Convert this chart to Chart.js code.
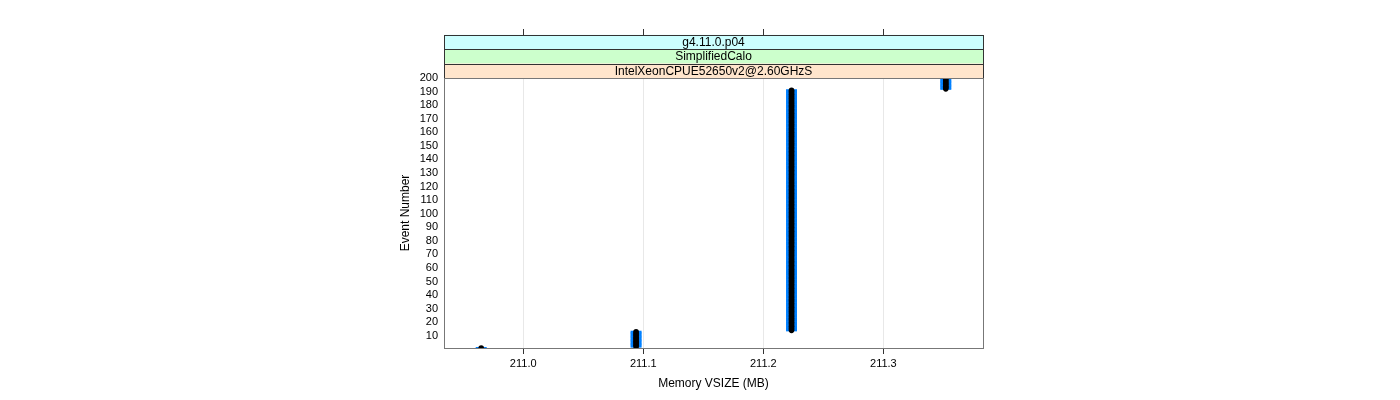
<!DOCTYPE html>
<html>
<head>
<meta charset="utf-8">
<script src="https://cdn.jsdelivr.net/npm/chart.js@4.4.0/dist/chart.umd.min.js"></script>
<style>
  html, body { margin: 0; padding: 0; background: #ffffff; }
  #wrap { width: 1400px; height: 400px; }
</style>
</head>
<body>
<div id="wrap"><canvas id="c" width="1400" height="400"></canvas></div>
<script>
// ---- data ----
const runMemory = [210.965, 211.094, 211.2235, 211.352];   // Memory VSIZE (MB)
const runFirstEvent = [1, 2, 14, 192];
const runLastEvent  = [1, 13, 191, 200];
const xTicks = [211.0, 211.1, 211.2, 211.3];
const yTicks = [10, 20, 30, 40, 50, 60, 70, 80, 90, 100, 110, 120, 130, 140, 150, 160, 170, 180, 190, 200];
const stripLabels = ['g4.11.0.p04', 'SimplifiedCalo', 'IntelXeonCPUE52650v2@2.60GHzS'];
const xTitle = 'Memory VSIZE (MB)';
const yTitle = 'Event Number';

const points = [];
for (let i = 0; i < runMemory.length; i++) {
  for (let ev = runFirstEvent[i]; ev <= runLastEvent[i]; ev++) {
    points.push({ x: runMemory[i], y: ev });
  }
}

const FONT = '"Liberation Sans", Arial, sans-serif';
const stripColors = ['#ccffff', '#ccffcc', '#ffe5cc'];

const stripPlugin = {
  id: 'strips',
  afterDraw(chart) {
    const ctx = chart.ctx;
    const a = chart.chartArea;
    const h = 14.4;
    const top = a.top - h * 3;
    ctx.save();
    for (let i = 0; i < 3; i++) {
      const y0 = top + i * h;
      ctx.fillStyle = stripColors[i];
      ctx.fillRect(a.left, y0, a.right - a.left, h);
    }
    ctx.strokeStyle = '#333333';
    ctx.lineWidth = 1;
    for (let i = 0; i < 3; i++) {
      const y0 = Math.round(top + i * h) + 0.5;
      const y1 = Math.round(top + (i + 1) * h) + 0.5;
      ctx.strokeRect(Math.round(a.left) + 0.5, y0, Math.round(a.right - a.left), y1 - y0);
    }
    ctx.fillStyle = '#000000';
    ctx.font = '12px ' + FONT;
    ctx.textAlign = 'center';
    ctx.textBaseline = 'middle';
    for (let i = 0; i < 3; i++) {
      ctx.fillText(stripLabels[i], (a.left + a.right) / 2, top + i * h + h / 2 + 0.5);
    }
    // top tick marks above strips
    const xs = chart.scales.x;
    ctx.strokeStyle = '#333333';
    ctx.beginPath();
    for (const t of xTicks) {
      const px = Math.round(xs.getPixelForValue(t)) + 0.5;
      ctx.moveTo(px, Math.round(top));
      ctx.lineTo(px, Math.round(top) - 6);
    }
    ctx.stroke();
    // panel box
    ctx.strokeStyle = '#777777';
    ctx.strokeRect(Math.round(a.left) + 0.5, Math.round(a.top) + 0.5,
                   Math.round(a.right - a.left), Math.round(a.bottom - a.top));
    ctx.restore();
  }
};

new Chart(document.getElementById('c'), {
  type: 'scatter',
  data: {
    datasets: [
      {
        label: 'black',
        data: points,
        pointStyle: 'circle',
        pointRadius: 2.8,
        pointBackgroundColor: '#000000',
        pointBorderColor: '#000000',
        pointBorderWidth: 0,
        clip: 0
      },
      {
        label: 'blue',
        data: points,
        pointStyle: 'line',
        pointRadius: 5.5,
        pointBorderColor: '#0080ff',
        pointBorderWidth: 2,
        clip: 0
      }
    ]
  },
  plugins: [stripPlugin],
  options: {
    responsive: false,
    animation: false,
    events: [],
    layout: { padding: { left: 392, right: 417, top: 78, bottom: 0 } },
    plugins: { legend: { display: false }, tooltip: { enabled: false } },
    scales: {
      x: {
        type: 'linear',
        min: 210.934,
        max: 211.383,
        afterFit(s) { s.height = 52; },
        afterBuildTicks(s) { s.ticks = xTicks.map(v => ({ value: v })); },
        grid: { color: '#e8e8e8', tickColor: '#333333', tickLength: 6, drawTicks: true },
        border: { display: true, color: '#777777' },
        ticks: {
          color: '#000000',
          font: { family: FONT, size: 11 },
          padding: 3,
          maxRotation: 0,
          callback: v => Number(v).toFixed(1)
        },
        title: {
          display: true,
          text: xTitle,
          color: '#000000',
          font: { family: FONT, size: 12 },
          padding: { top: 8, bottom: 9 }
        }
      },
      y: {
        type: 'linear',
        min: 1,
        max: 200,
        afterFit(s) { s.width = 52; },
        afterBuildTicks(s) { s.ticks = yTicks.map(v => ({ value: v })); },
        grid: { display: false, drawTicks: false },
        border: { display: true, color: '#777777' },
        ticks: {
          color: '#000000',
          font: { family: FONT, size: 11 },
          padding: 6,
          autoSkip: false
        },
        title: {
          display: true,
          text: yTitle,
          color: '#000000',
          font: { family: FONT, size: 12 },
          padding: { top: 6, bottom: 6 }
        }
      }
    }
  }
});
</script>
</body>
</html>
